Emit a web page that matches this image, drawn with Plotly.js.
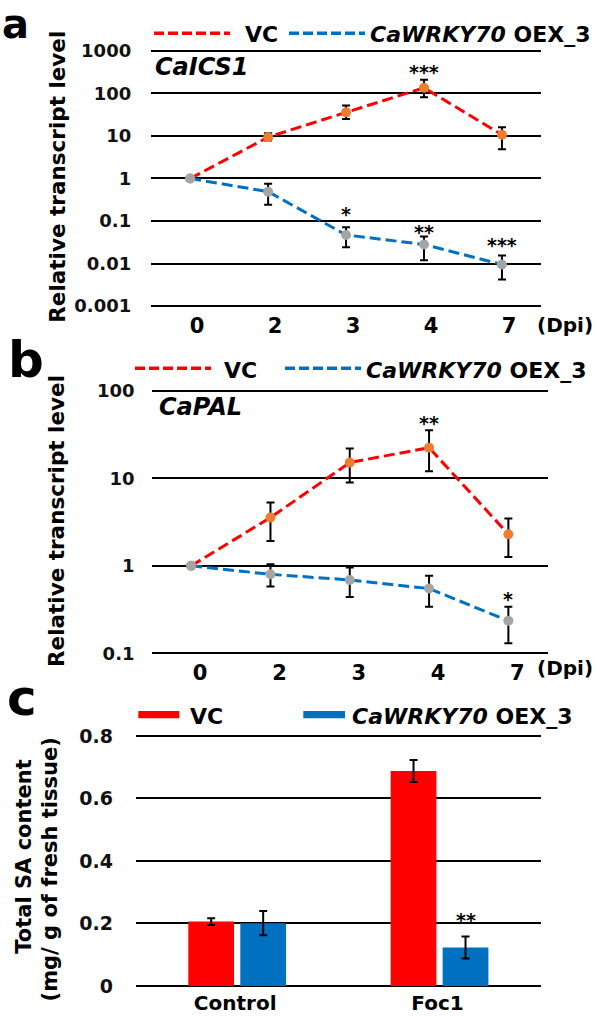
<!DOCTYPE html>
<html>
<head>
<meta charset="utf-8">
<script src="https://cdn.plot.ly/plotly-3.0.1.min.js"></script>
<style>html,body{margin:0;padding:0;background:#fff;}#chart{width:596px;height:1018px;}</style>
</head>
<body>
<div id="chart"></div>
<script>
// ---------- data ----------
const days = ['0', '2', '3', '4', '7'];

// Panel a: CaICS1 relative transcript level
const icsVC = [1, 9.4, 36, 136, 10.7];
const icsVCPlus = [0, 2.2, 16, 74, 5.3];
const icsVCMinus = [0, 1.6, 11, 54, 5.8];
const icsOE = [1, 0.49, 0.047, 0.028, 0.0095];
const icsOEPlus = [0, 0.26, 0.024, 0.015, 0.0059];
const icsOEMinus = [0, 0.25, 0.023, 0.016, 0.0053];
const icsVCStars = ['', '', '', '***', ''];
const icsOEStars = ['', '', '*', '**', '***'];

// Panel b: CaPAL relative transcript level
const palVC = [1, 3.57, 15.2, 22.5, 2.3];
const palVCPlus = [0, 1.73, 6.8, 13.1, 1.18];
const palVCMinus = [0, 1.65, 6.2, 10.4, 1.04];
const palOE = [1, 0.80, 0.69, 0.55, 0.235];
const palOEPlus = [0, 0.24, 0.27, 0.22, 0.105];
const palOEMinus = [0, 0.22, 0.25, 0.21, 0.105];
const palVCStars = ['', '', '', '**', ''];
const palOEStars = ['', '', '', '', '*'];

// Panel c: total SA content
const treatments = ['Control', 'Foc1'];
const saVC = [0.206, 0.688];
const saVCErr = [0.011, 0.035];
const saOE = [0.201, 0.123];
const saOEErr = [0.039, 0.035];
const saOEStars = ['', '**'];

const logTickVals = [0.001, 0.01, 0.1, 1, 10, 100, 1000];
const logTickText = ['0.001', '0.01', '0.1', '1', '10', '100', '1000'];
const palTickVals = [0.1, 1, 10, 100];
const palTickText = ['0.1', '1', '10', '100'];
const saTickVals = [0, 0.2, 0.4, 0.6, 0.8];
const saTickText = ['0', '0.2', '0.4', '0.6', '0.8'];

// ---------- styles ----------
const FONT = 'DejaVu Sans, Liberation Sans, Arial, sans-serif';
const RED = '#FF0000', BLUE = '#0070C0', ORANGE = '#ED7D31', GRAY = '#A5A5A5';
const W = 596, H = 1018;
const BARGAP = 0.486, BARGROUPGAP = 0.12;
const px = v => v / W;          // pixel x -> paper
const py = v => 1 - v / H;      // pixel y -> paper

function lineTrace(y, plus, minus, lineColor, markerColor, xa, ya, name) {
  return {
    type: 'scatter', mode: 'lines+markers', name: name, showlegend: false,
    x: days, y: y, xaxis: xa, yaxis: ya,
    line: {color: lineColor, width: 3, dash: '11px,5px'},
    marker: {color: markerColor, size: 10},
    error_y: {type: 'data', symmetric: false, array: plus, arrayminus: minus,
              color: '#000', thickness: 2, width: 4}
  };
}

const traces = [
  lineTrace(icsVC, icsVCPlus, icsVCMinus, RED, ORANGE, 'x', 'y', 'VC'),
  lineTrace(icsOE, icsOEPlus, icsOEMinus, BLUE, GRAY, 'x', 'y', 'CaWRKY70 OEX_3'),
  lineTrace(palVC, palVCPlus, palVCMinus, RED, ORANGE, 'x2', 'y2', 'VC'),
  lineTrace(palOE, palOEPlus, palOEMinus, BLUE, GRAY, 'x2', 'y2', 'CaWRKY70 OEX_3'),
  {type: 'bar', name: 'VC', showlegend: false, x: treatments, y: saVC, xaxis: 'x3', yaxis: 'y3',
   marker: {color: RED},
   error_y: {type: 'data', array: saVCErr, color: '#000', thickness: 2, width: 4}},
  {type: 'bar', name: 'CaWRKY70 OEX_3', showlegend: false, x: treatments, y: saOE, xaxis: 'x3', yaxis: 'y3',
   marker: {color: BLUE},
   error_y: {type: 'data', array: saOEErr, color: '#000', thickness: 2, width: 4}}
];

const xCat = (domain, anchor, size, shift, n) => ({
  domain: domain, anchor: anchor, type: 'category', range: [-0.5, n - 0.5],
  showgrid: false, zeroline: false, showline: false, ticks: '',
  tickfont: {family: FONT, size: size, color: '#000', weight: 'bold'},
  ticklabelshift: shift, ticklabelstandoff: 2, fixedrange: true
});
const yAx = (domain, anchor, type, range, vals, text, size, standoff) => ({
  domain: domain, anchor: anchor, type: type, range: range,
  tickmode: 'array', tickvals: vals, ticktext: text,
  showgrid: true, gridcolor: '#000', gridwidth: 2, zeroline: false, showline: false, ticks: '',
  tickfont: {family: FONT, size: size, color: '#111', weight: 'bold'},
  ticklabelstandoff: standoff, fixedrange: true
});

// star annotations built from the star arrays, placed above each error bar top
// xOffset: position of the bar/point inside its category (category units)
function starAnns(stars, vals, plus, xa, ya, isLog, shifts, xOffset) {
  const out = [];
  stars.forEach((s, i) => {
    if (!s) return;
    const top = vals[i] + plus[i];
    out.push({xref: xa, yref: ya, x: i + (xOffset || 0),
      y: isLog ? Math.log10(top) : top, text: s, showarrow: false, yanchor: 'bottom',
      yshift: shifts[i] || 0, font: {family: FONT, size: 19, color: '#000', weight: 'bold'}});
  });
  return out;
}
// second bar of a two-bar group: centre offset inside the category
const oeBarOffset = (1 - BARGAP) / 4;

const txt = (text, x, y, size, opts) => Object.assign({
  xref: 'paper', yref: 'paper', x: px(x), y: py(y), text: text, showarrow: false,
  xanchor: 'left', yanchor: 'middle', font: {family: FONT, size: size, color: '#000', weight: 'bold'}
}, opts || {});

const annotations = [
  // panel letters
  txt('a', 0, 23.6, 40),
  txt('b', 6, 360, 50),
  txt('c', 5, 698, 50),
  // gene names
  txt('<i>CaICS1</i>', 153, 66.7, 24),
  txt('<i>CaPAL</i>', 157, 406.7, 24),
  // legend texts
  txt('VC', 243, 34, 22),
  txt('<i>CaWRKY70</i> OEX_3', 368, 34, 22),
  txt('VC', 222, 370, 22),
  txt('<i>CaWRKY70</i> OEX_3', 364, 370, 22),
  txt('VC', 188, 716.4, 22),
  txt('<i>CaWRKY70</i> OEX_3', 350, 716.4, 22),
  // x unit
  txt('(Dpi)', 535, 324.5, 20),
  txt('(Dpi)', 535, 667.8, 20),
  // y titles
  txt('Relative transcript level', 58, 176.7, 21.5, {xanchor: 'center', textangle: -90}),
  txt('Relative transcript level', 56, 521, 21.5, {xanchor: 'center', textangle: -90}),
  txt('Total SA content', 24, 856.7, 21, {xanchor: 'center', textangle: -90}),
  txt('(mg/ g of fresh tissue)', 50.4, 869, 21, {xanchor: 'center', textangle: -90})
].concat(
  starAnns(icsVCStars, icsVC, icsVCPlus, 'x', 'y', true, [0, 0, 0, -5, 0]),
  starAnns(icsOEStars, icsOE, icsOEPlus, 'x', 'y', true, [0, 0, 0, -8, -2]),
  starAnns(palVCStars, palVC, palVCPlus, 'x2', 'y2', true, [0, 0, 0, -6, 0]),
  starAnns(palOEStars, palOE, palOEPlus, 'x2', 'y2', true, [0, 0, 0, 0, -5]),
  starAnns(saOEStars, saOE, saOEErr, 'x3', 'y3', false, [0, 4], oeBarOffset)
);

// legend swatches
const dashLine = (x0, x1, y, color) => ({type: 'line', xref: 'paper', yref: 'paper',
  x0: px(x0), x1: px(x1), y0: py(y), y1: py(y), line: {color: color, width: 3.5, dash: '10px,4px'}});
const rectSw = (x0, x1, y0, y1, color) => ({type: 'rect', xref: 'paper', yref: 'paper',
  x0: px(x0), x1: px(x1), y0: py(y0), y1: py(y1), line: {width: 0}, fillcolor: color});
const shapes = [
  dashLine(154, 230, 33.3, RED), dashLine(289, 365, 33.3, BLUE),
  dashLine(135, 211, 368.3, RED), dashLine(285, 361, 368.3, BLUE),
  rectSw(138.3, 179.3, 711, 718.3, RED), rectSw(303.3, 345, 711, 718.3, BLUE)
];

const layout = {
  width: W, height: H, margin: {l: 0, r: 0, t: 0, b: 0},
  paper_bgcolor: '#fff', plot_bgcolor: '#fff', showlegend: false,
  font: {family: FONT, color: '#000'},
  barmode: 'group', bargap: BARGAP, bargroupgap: BARGROUPGAP,
  xaxis: xCat([0.2537, 0.9076], 'y', 21, 7, days.length),
  yaxis: yAx([0.69690, 0.95241], 'x', 'log', [-3.06, 3.06], logTickVals, logTickText, 18, 19),
  xaxis2: xCat([0.2542, 0.9195], 'y2', 21, 9, days.length),
  yaxis2: yAx([0.35570, 0.61847], 'x2', 'log', [-1.03, 2.03], palTickVals, palTickText, 18, 16),
  xaxis3: Object.assign(xCat([0.2282, 0.9072], 'y3', 20, -2, treatments.length), {ticklabelstandoff: 1}),
  yaxis3: yAx([0.02898, 0.27947], 'x3', 'linear', [-0.008, 0.808], saTickVals, saTickText, 19, 22),
  annotations: annotations,
  shapes: shapes
};

Plotly.newPlot('chart', traces, layout, {staticPlot: true, displayModeBar: false});
</script>
</body>
</html>
